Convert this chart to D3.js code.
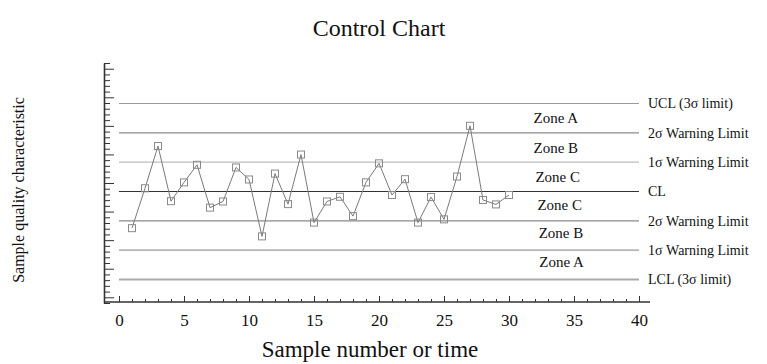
<!DOCTYPE html>
<html><head><meta charset="utf-8">
<script src="https://cdn.jsdelivr.net/npm/d3@7/dist/d3.min.js"></script>
<style>
body{margin:0;background:#fff;}
svg{display:block;font-family:"Liberation Serif","Times New Roman",serif;}
</style></head>
<body><svg id="c" width="767" height="364"></svg>
<script>
// sample number
const samples = d3.range(1, 31);
// sample value in sigma units from the center line
const values = [-1.25, 0.11, 1.55, -0.33, 0.31, 0.91, -0.55, -0.34, 0.82, 0.41,
  -1.53, 0.61, -0.43, 1.26, -1.06, -0.34, -0.18, -0.84, 0.31, 0.96,
  -0.12, 0.42, -1.06, -0.19, -0.95, 0.51, 2.24, -0.29, -0.44, -0.12];
// control / warning lines (sigma level) and right-hand labels
const limitLevels = [3, 2, 1, 0, -1, -2, -3];
const limitLabels = ["UCL (3\u03c3 limit)", "2\u03c3 Warning Limit", "1\u03c3 Warning Limit", "CL",
  "2\u03c3 Warning Limit", "1\u03c3 Warning Limit", "LCL (3\u03c3 limit)"];
const limitColors = ["#9a9a9a", "#8c8c8c", "#bdbdbd", "#333333", "#8a8a8a", "#9a9a9a", "#aaaaaa"];
const limitWidths = [1.2, 1.2, 1.2, 1.2, 1.2, 1.4, 1.8];
// zone labels, centred between levels (x position in sample units)
const zoneMids = [2.5, 1.5, 0.5, -0.45, -1.4, -2.4];
const zoneX = [33.6, 33.6, 33.75, 33.9, 34.0, 34.05];
const zoneLabels = ["Zone A", "Zone B", "Zone C", "Zone C", "Zone B", "Zone A"];
const xTicks = [0, 5, 10, 15, 20, 25, 30, 35, 40];

const svg = d3.select("#c");
const x = d3.scaleLinear().domain([0, 40]).range([119, 639]);
const y = d3.scaleLinear().domain([-3, 3]).range([279.5, 103.5]);
const yAxisScale = d3.scaleLinear().domain([-0.2, 8.2]).range([303, 63]);
const axisX = 104, axisY = 302;

// limit lines
svg.append("g").selectAll("line").data(limitLevels).join("line")
  .attr("x1", x(0)).attr("x2", x(40))
  .attr("y1", d => y(d)).attr("y2", d => y(d))
  .attr("stroke", (d, i) => limitColors[i]).attr("stroke-width", (d, i) => limitWidths[i]);

svg.append("g").selectAll("text").data(limitLevels).join("text")
  .attr("x", x(40) + 9).attr("y", d => y(d)).attr("dy", "0.35em")
  .attr("font-size", 14).attr("fill", "#111")
  .text((d, i) => limitLabels[i]);

svg.append("g").selectAll("text").data(zoneMids).join("text")
  .attr("x", (d, i) => x(zoneX[i])).attr("y", d => y(d)).attr("dy", "0.35em")
  .attr("text-anchor", "middle").attr("font-size", 15).attr("fill", "#111")
  .text((d, i) => zoneLabels[i]);

// data line and markers
const line = d3.line().x((d, i) => x(samples[i])).y(d => y(d));
svg.append("path").datum(values).attr("d", line)
  .attr("fill", "none").attr("stroke", "#7a7a7a").attr("stroke-width", 1);
svg.append("g").selectAll("rect").data(values).join("rect")
  .attr("x", (d, i) => x(samples[i]) - 3.5).attr("y", d => y(d) - 3.5)
  .attr("width", 7).attr("height", 7)
  .attr("fill", "none").attr("stroke", "#8a8a8a").attr("stroke-width", 1);

// y axis (no labels, ticks inward)
const yMajor = d3.range(0, 8.01, 1);
const yMinor = d3.range(-0.2, 8.21, 0.2).filter(v => Math.abs(v - Math.round(v)) > 1e-6);
svg.append("g").attr("transform", `translate(${axisX},0)`)
  .call(d3.axisRight(yAxisScale).tickValues(yMinor).tickSize(6).tickSizeOuter(0).tickFormat(""))
  .call(g => g.selectAll("line").attr("stroke", "#333"))
  .call(g => g.select(".domain").attr("stroke", "#333").attr("stroke-width", 1.6));
svg.append("g").attr("transform", `translate(${axisX},0)`)
  .call(d3.axisRight(yAxisScale).tickValues(yMajor).tickSize(10).tickSizeOuter(0).tickFormat(""))
  .call(g => g.selectAll("line").attr("stroke", "#333"))
  .call(g => g.select(".domain").remove());

// x axis
svg.append("line").attr("x1", axisX).attr("x2", 650).attr("y1", axisY).attr("y2", axisY)
  .attr("stroke", "#333").attr("stroke-width", 1.6);
svg.append("g").attr("transform", `translate(0,${axisY})`)
  .call(d3.axisBottom(x).tickValues(d3.range(0, 41, 1)).tickSize(-3).tickFormat(""))
  .call(g => g.select(".domain").remove())
  .call(g => g.selectAll("line").attr("stroke", "#333"));
svg.append("g").attr("transform", `translate(0,${axisY})`)
  .call(d3.axisBottom(x).tickValues(xTicks).tickSize(-6).tickPadding(12).tickFormat(d3.format("d")))
  .call(g => g.select(".domain").remove())
  .call(g => g.selectAll("line").attr("stroke", "#333"))
  .call(g => g.selectAll("text").attr("font-size", 17).attr("font-family", "Liberation Serif").attr("fill", "#111"));

// titles
svg.append("text").attr("x", 379).attr("y", 36).attr("text-anchor", "middle")
  .attr("font-size", 24).attr("fill", "#111").text("Control Chart");
svg.append("text").attr("x", 370).attr("y", 357).attr("text-anchor", "middle")
  .attr("font-size", 23).attr("fill", "#111").text("Sample number or time");
svg.append("text").attr("transform", "translate(24,190) rotate(-90)").attr("text-anchor", "middle")
  .attr("font-size", 16).attr("fill", "#111").text("Sample quality characteristic");
</script></body></html>
